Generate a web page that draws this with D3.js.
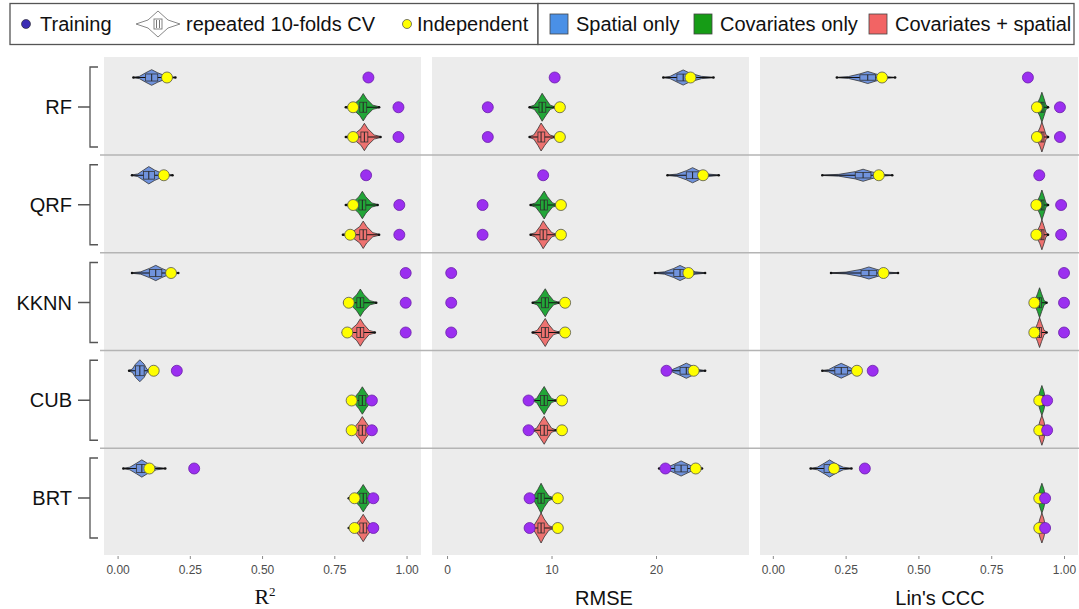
<!DOCTYPE html>
<html>
<head>
<meta charset="utf-8">
<script src="https://cdn.jsdelivr.net/npm/d3@7"></script>
<style>
  body { margin: 0; background: #fff; }
  text { font-family: "Liberation Sans", Arial, sans-serif; }
</style>
</head>
<body>
<svg id="chart" width="1079" height="609"></svg>
<script>
// models (rows) and feature sets (sub-rows)
const models = ["RF", "QRF", "KKNN", "CUB", "BRT"];
const groups = ["Spatial only", "Covariates only", "Covariates + spatial"];

// repeated 10-fold CV summaries: [min, q1, median, q3, max] per model x group
const r2CV = [
  [[0.055, 0.097, 0.118, 0.139, 0.20], [0.79, 0.838, 0.85, 0.862, 0.905], [0.79, 0.842, 0.854, 0.866, 0.91]],
  [[0.05, 0.09, 0.108, 0.128, 0.19], [0.79, 0.835, 0.847, 0.859, 0.90], [0.78, 0.838, 0.85, 0.862, 0.905]],
  [[0.05, 0.11, 0.132, 0.153, 0.21], [0.785, 0.828, 0.84, 0.852, 0.895], [0.78, 0.828, 0.84, 0.852, 0.89]],
  [[0.04, 0.062, 0.077, 0.092, 0.11], [0.80, 0.835, 0.847, 0.859, 0.89], [0.80, 0.835, 0.847, 0.859, 0.89]],
  [[0.02, 0.065, 0.084, 0.103, 0.165], [0.80, 0.838, 0.85, 0.862, 0.895], [0.80, 0.838, 0.85, 0.862, 0.895]]
];
const r2Train = [[0.868, 0.972, 0.972], [0.86, 0.975, 0.975], [0.997, 0.997, 0.997], [0.205, 0.88, 0.88], [0.265, 0.885, 0.885]];
const r2Indep = [[0.171, 0.815, 0.815], [0.16, 0.815, 0.805], [0.185, 0.80, 0.795], [0.125, 0.81, 0.81], [0.11, 0.82, 0.82]];

const rmseCV = [
  [[20.7, 22.0, 22.6, 23.2, 25.5], [7.9, 8.8, 9.1, 9.45, 10.3], [7.9, 8.7, 9.0, 9.35, 10.3]],
  [[21.1, 22.9, 23.5, 24.1, 26.0], [8.0, 8.95, 9.3, 9.6, 10.6], [8.0, 8.9, 9.2, 9.55, 10.5]],
  [[19.9, 21.7, 22.3, 22.9, 24.7], [8.2, 9.05, 9.4, 9.7, 10.7], [8.2, 9.05, 9.4, 9.7, 10.7]],
  [[20.8, 22.3, 22.9, 23.5, 24.7], [8.2, 8.95, 9.3, 9.6, 10.4], [8.2, 8.95, 9.3, 9.6, 10.4]],
  [[20.3, 21.8, 22.4, 23.0, 24.4], [7.9, 8.7, 9.0, 9.3, 10.2], [7.9, 8.7, 9.0, 9.3, 10.2]]
];
const rmseTrain = [[10.3, 3.9, 3.9], [9.2, 3.4, 3.4], [0.4, 0.4, 0.4], [21.0, 7.8, 7.8], [20.9, 7.9, 7.9]];
const rmseIndep = [[23.3, 10.8, 10.8], [24.5, 10.9, 10.9], [23.1, 11.3, 11.3], [23.6, 11.0, 11.0], [23.8, 10.6, 10.6]];

const cccCV = [
  [[0.22, 0.299, 0.326, 0.353, 0.42], [0.895, 0.917, 0.924, 0.931, 0.945], [0.895, 0.917, 0.924, 0.931, 0.945]],
  [[0.17, 0.283, 0.31, 0.337, 0.41], [0.895, 0.917, 0.924, 0.931, 0.945], [0.895, 0.917, 0.924, 0.931, 0.945]],
  [[0.20, 0.303, 0.33, 0.357, 0.43], [0.89, 0.909, 0.916, 0.923, 0.94], [0.89, 0.909, 0.916, 0.923, 0.94]],
  [[0.17, 0.213, 0.235, 0.257, 0.30], [0.905, 0.917, 0.924, 0.931, 0.94], [0.905, 0.917, 0.924, 0.931, 0.94]],
  [[0.13, 0.176, 0.195, 0.214, 0.27], [0.905, 0.917, 0.924, 0.931, 0.94], [0.905, 0.917, 0.924, 0.931, 0.94]]
];
const cccTrain = [[0.876, 0.986, 0.986], [0.915, 0.99, 0.99], [1.0, 1.0, 1.0], [0.343, 0.942, 0.942], [0.316, 0.935, 0.935]];
const cccIndep = [[0.375, 0.907, 0.907], [0.364, 0.905, 0.905], [0.38, 0.898, 0.898], [0.289, 0.915, 0.915], [0.21, 0.915, 0.915]];

const r2Ticks = [0, 0.25, 0.5, 0.75, 1];
const rmseTicks = [0, 10, 20];
const cccTicks = [0, 0.25, 0.5, 0.75, 1];

const violinFill = ["#7093dd", "#22a638", "#ee7270"];
const legendFill = ["#4a90e6", "#169c16", "#f26464"];

const svg = d3.select("#chart");
svg.append("rect").attr("width", 1079).attr("height", 609).attr("fill", "#fff");

const panelTop = 57, panelBottom = 555;
const yModel = d3.scalePoint().domain(models).range([107, 498]);
const yGroup = d3.scalePoint().domain(groups).range([-29.5, 30]);

const panels = [
  { cv: r2CV, train: r2Train, indep: r2Indep, domain: [-0.047, 1.05], range: [104, 421], ticks: r2Ticks, fmt: d3.format(".2f"), titleX: 265 },
  { cv: rmseCV, train: rmseTrain, indep: rmseIndep, domain: [-1.44, 28.9], range: [432, 749], ticks: rmseTicks, fmt: d3.format("d"), titleX: 604, title: "RMSE" },
  { cv: cccCV, train: cccTrain, indep: cccIndep, domain: [-0.044, 1.048], range: [760, 1078], ticks: cccTicks, fmt: d3.format(".2f"), titleX: 940, title: "Lin's CCC" }
];

const area = d3.area().x(d => d.x).y0(d => d.y0).y1(d => d.y1);

panels.forEach(p => {
  const x = d3.scaleLinear().domain(p.domain).range(p.range);
  const g = svg.append("g");

  g.append("rect")
    .attr("x", p.range[0]).attr("y", panelTop)
    .attr("width", p.range[1] - p.range[0]).attr("height", panelBottom - panelTop)
    .attr("fill", "#ececec");

  // axis
  const axis = d3.axisBottom(x).tickValues(p.ticks).tickFormat(p.fmt).tickSize(3).tickPadding(6);
  const ax = g.append("g").attr("transform", `translate(0,${panelBottom + 1})`).call(axis);
  ax.select(".domain").remove();
  ax.selectAll(".tick line").attr("stroke", "#888");
  ax.selectAll(".tick text").attr("fill", "#4d4d4d").style("font-size", "12px");

  // violins
  models.forEach((m, i) => {
    groups.forEach((gr, j) => {
      const [mn, q1, md, q3, mx] = p.cv[i][j];
      const cy = yModel(m) + yGroup(gr);
      const iqr = x(q3) - x(q1);
      const w = Math.min(15, 95 / iqr);
      const prof = [[mn, 0.04], [(mn + q1) / 2, 0.15], [q1, 0.6], [md, 1], [q3, 0.6], [(q3 + mx) / 2, 0.15], [mx, 0.04]];
      const pts = prof.map(([v, f]) => ({ x: x(v), y0: cy - w * f, y1: cy + w * f }));
      g.append("path").attr("d", area(pts))
        .attr("fill", violinFill[j]).attr("stroke", "#333").attr("stroke-width", 0.8);
      // whiskers
      g.append("line").attr("x1", x(mn)).attr("x2", x(q1)).attr("y1", cy).attr("y2", cy)
        .attr("stroke", "#111").attr("stroke-width", 1);
      g.append("line").attr("x1", x(q3)).attr("x2", x(mx)).attr("y1", cy).attr("y2", cy)
        .attr("stroke", "#111").attr("stroke-width", 1);
      const bh = Math.min(5, w * 0.45);
      g.append("rect").attr("x", x(q1)).attr("y", cy - bh).attr("width", iqr).attr("height", 2 * bh)
        .attr("fill", "none").attr("stroke", "#333").attr("stroke-width", 0.8);
      g.append("line").attr("x1", x(md)).attr("x2", x(md)).attr("y1", cy - bh).attr("y2", cy + bh)
        .attr("stroke", "#222").attr("stroke-width", 1);
      [mn, mx].forEach(v => g.append("circle").attr("cx", x(v)).attr("cy", cy).attr("r", 1.3).attr("fill", "#111"));
    });
  });

  // independent and training points
  models.forEach((m, i) => {
    groups.forEach((gr, j) => {
      const cy = yModel(m) + yGroup(gr);
      g.append("circle").attr("cx", x(p.indep[i][j])).attr("cy", cy).attr("r", 5.5)
        .attr("fill", "#ffff00").attr("stroke", "#555").attr("stroke-width", 0.8);
      g.append("circle").attr("cx", x(p.train[i][j])).attr("cy", cy).attr("r", 5.5)
        .attr("fill", "#9b2ff0").attr("stroke", "#6a1fa8").attr("stroke-width", 0.8);
    });
  });

  // axis title
  if (p.title) {
    g.append("text").attr("x", p.titleX).attr("y", 605).attr("text-anchor", "middle")
      .style("font-size", "20px").attr("fill", "#111").text(p.title);
  } else {
    const t = g.append("text").attr("x", p.titleX).attr("y", 604).attr("text-anchor", "middle")
      .style("font-family", "'Liberation Serif', 'Times New Roman', serif").style("font-size", "22px").attr("fill", "#111");
    t.append("tspan").text("R");
    t.append("tspan").attr("dy", -8).style("font-size", "13px").text("2");
  }
});

// horizontal separators between models
for (let i = 0; i < models.length - 1; i++) {
  const y = (yModel(models[i]) + yModel(models[i + 1])) / 2 - 1;
  svg.append("line").attr("x1", 100).attr("x2", 1079).attr("y1", y).attr("y2", y)
    .attr("stroke", "#b4b4b4").attr("stroke-width", 1.5);
}

// model labels with brackets
models.forEach(m => {
  const cy = yModel(m);
  svg.append("path")
    .attr("d", `M98,${cy - 40}H90V${cy + 40}H98M90,${cy}H78`)
    .attr("fill", "none").attr("stroke", "#555").attr("stroke-width", 1.3);
  svg.append("text").attr("x", 72).attr("y", cy + 7).attr("text-anchor", "end")
    .style("font-size", "20px").attr("fill", "#111").text(m);
});

// legend
const lg = svg.append("g");
lg.append("rect").attr("x", 10).attr("y", 3.5).attr("width", 528).attr("height", 41)
  .attr("fill", "#fff").attr("stroke", "#555").attr("stroke-width", 1.3);
lg.append("rect").attr("x", 538).attr("y", 3.5).attr("width", 536).attr("height", 41)
  .attr("fill", "#fff").attr("stroke", "#555").attr("stroke-width", 1.3);

const ly = 24;
lg.append("circle").attr("cx", 26).attr("cy", ly).attr("r", 4.5).attr("fill", "#3b2db5").attr("stroke", "#222").attr("stroke-width", 0.6);
lg.append("text").attr("x", 40).attr("y", ly + 7).style("font-size", "20px").attr("fill", "#111").text("Training");

// CV glyph
const gx = 158;
lg.append("path")
  .attr("d", `M${gx - 22},${ly}L${gx - 10},${ly - 4}L${gx},${ly - 13}L${gx + 10},${ly - 4}L${gx + 22},${ly}L${gx + 10},${ly + 4}L${gx},${ly + 13}L${gx - 10},${ly + 4}Z`)
  .attr("fill", "#fff").attr("stroke", "#888").attr("stroke-width", 1);
lg.append("rect").attr("x", gx - 4).attr("y", ly - 5).attr("width", 8).attr("height", 10)
  .attr("fill", "#fff").attr("stroke", "#777").attr("stroke-width", 0.9);
lg.append("line").attr("x1", gx - 1.5).attr("x2", gx - 1.5).attr("y1", ly - 4).attr("y2", ly + 4).attr("stroke", "#777");
lg.append("line").attr("x1", gx + 1.5).attr("x2", gx + 1.5).attr("y1", ly - 4).attr("y2", ly + 4).attr("stroke", "#777");
lg.append("text").attr("x", 186).attr("y", ly + 7).style("font-size", "20px").attr("fill", "#111").text("repeated 10-folds CV");

lg.append("circle").attr("cx", 407).attr("cy", ly).attr("r", 4.5).attr("fill", "#ffff00").attr("stroke", "#555").attr("stroke-width", 0.8);
lg.append("text").attr("x", 417).attr("y", ly + 7).style("font-size", "20px").attr("fill", "#111").text("Independent");

const legX = [550, 694, 869];
groups.forEach((gr, j) => {
  lg.append("rect").attr("x", legX[j]).attr("y", ly - 10).attr("width", 18).attr("height", 20)
    .attr("fill", legendFill[j]).attr("stroke", "#444").attr("stroke-width", 0.8);
  lg.append("text").attr("x", legX[j] + 26).attr("y", ly + 7).style("font-size", "20px").attr("fill", "#111").text(gr);
});
</script>
</body>
</html>
